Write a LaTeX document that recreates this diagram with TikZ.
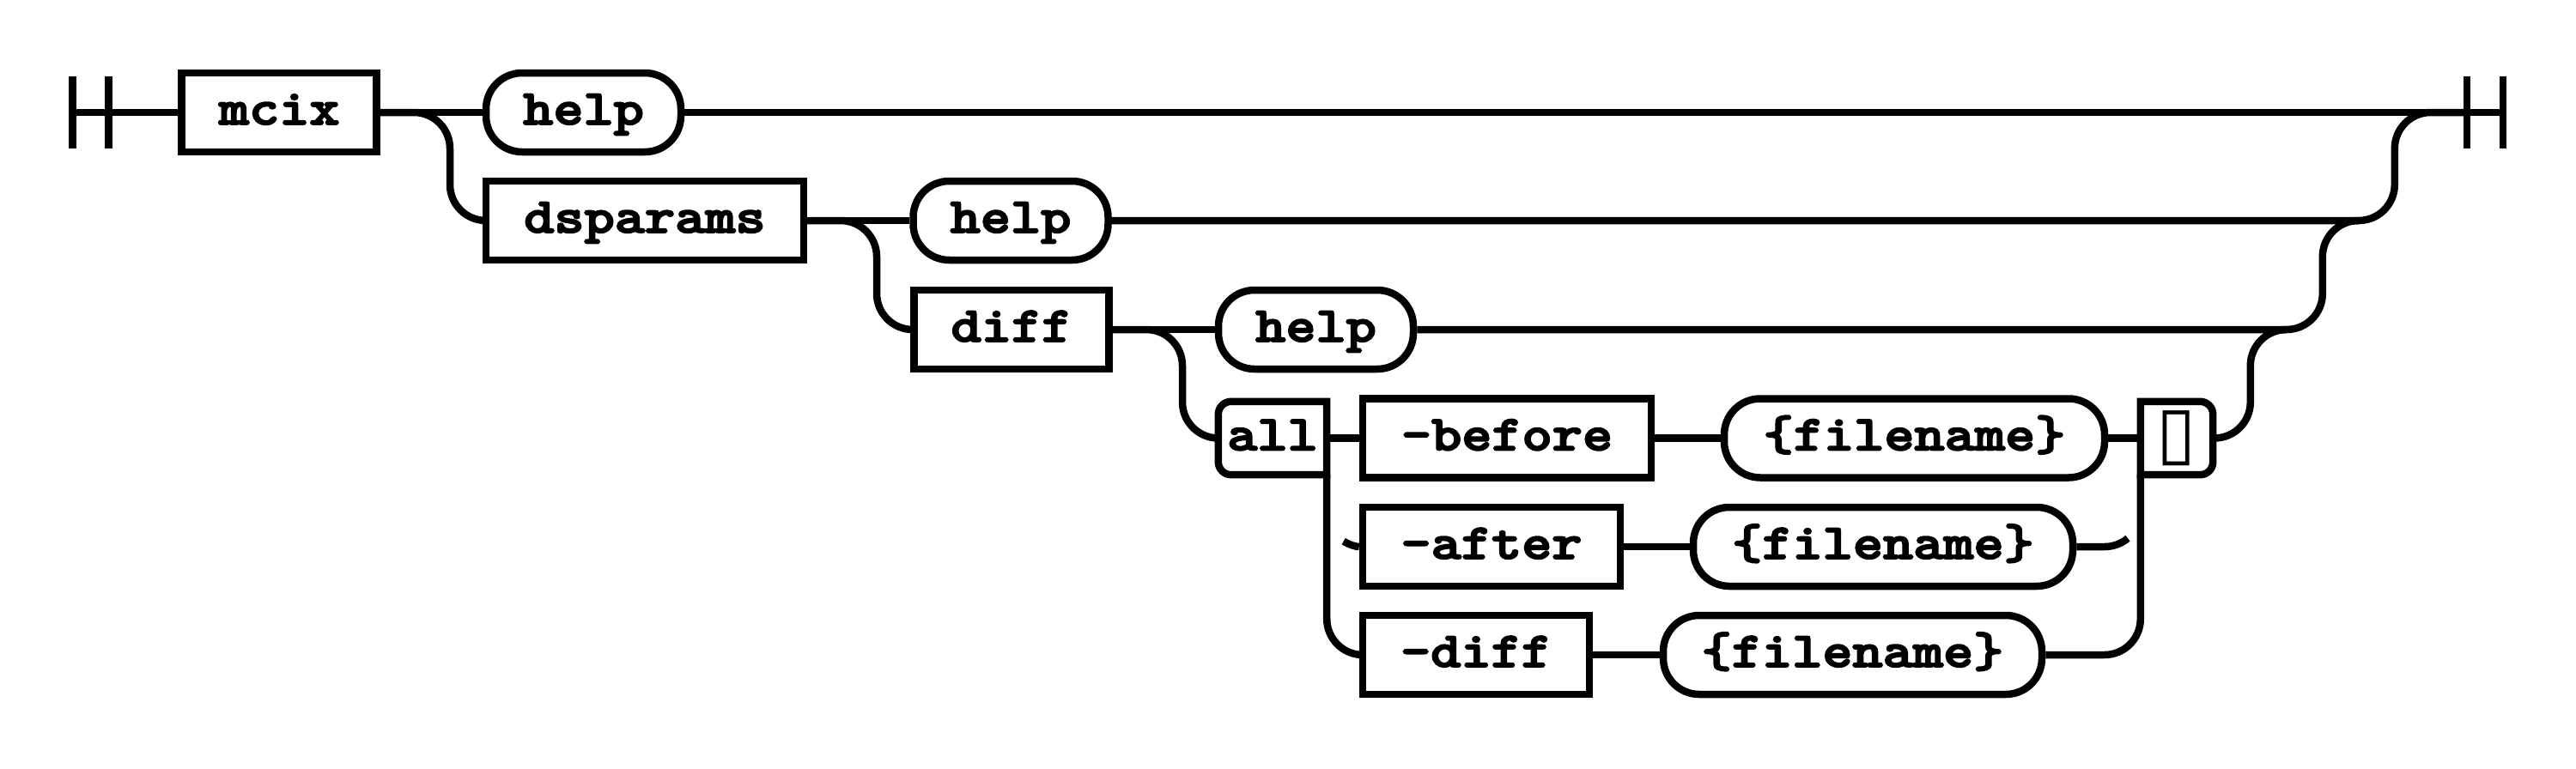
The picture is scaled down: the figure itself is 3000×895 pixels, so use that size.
\documentclass[tikz,border=0pt]{standalone}
\usepackage{fontspec}
\usepackage{graphicx}
\newfontfamily\boxglyph{DejaVu Sans}
\newfontfamily\rrfont{lmmonolt10-bold.otf}[FakeBold=3]
\newcommand\rrt[1]{\scalebox{1}[0.87]{\rrfont\fontsize{67}{67}\selectfont #1}}
\tikzset{
  rail/.style={line width=8.5pt, black},
  ntbox/.style={draw, black, line width=8.5pt, rectangle, minimum height=92pt, inner sep=0pt,
                text height=34pt, text depth=6pt, align=center},
  termbox/.style={ntbox, rounded corners=42pt},
  halfbox/.style={rectangle, minimum height=85pt, inner sep=0pt, text height=34pt, text depth=6pt},
}
\begin{document}
\begin{tikzpicture}[x=1pt,y=-1pt]
\fill[white] (0,0) rectangle (3000,895);
\useasboundingbox (0,0) rectangle (3000,895);

% rail verticals (x positions)
\coordinate (v1) at (524,0);
\coordinate (v2) at (1021,0);
\coordinate (v3) at (1377,0);
\coordinate (w3) at (2620.8,0);
\coordinate (w2) at (2704.8,0);
\coordinate (w1) at (2788.8,0);

% start / end
\coordinate (start) at (84.5,131);
\coordinate (start2) at (126.5,131);
\coordinate (endbar1) at (2872.8,131);
\coordinate (endbar) at (2914.8,131);

% nodes
\node[ntbox, minimum width=227pt] (mcix) at (325.2,131) {\rrt{mcix}};
\node[termbox, minimum width=227pt] (help1) at (679.5,131) {\rrt{help}};
\node[ntbox, minimum width=370pt] (dsparams) at (751,257) {\rrt{dsparams}};
\node[termbox, minimum width=227pt] (help2) at (1177,257) {\rrt{help}};
\node[ntbox, minimum width=227pt] (diff) at (1178,384) {\rrt{diff}};
\node[termbox, minimum width=227pt] (help3) at (1532.5,384) {\rrt{help}};
\node[halfbox, minimum width=126pt] (all) at (1482,510.5) {\rrt{all}};
\node[ntbox, minimum width=336pt] (before) at (1755,510.5) {\rrt{-before}};
\node[termbox, minimum width=443pt] (f1) at (2229.5,510.5) {\rrt{\{filename\}}};
\node[rectangle, inner sep=0pt, minimum width=84pt, minimum height=85pt] (sym) at (2535,510.5) {\boxglyph\fontsize{84}{84}\selectfont ▯};
\node[ntbox, minimum width=300pt] (after) at (1737,637) {\rrt{-after}};
\node[termbox, minimum width=442pt] (f2) at (2193,637) {\rrt{\{filename\}}};
\node[ntbox, minimum width=264pt] (dopt) at (1719,763) {\rrt{-diff}};
\node[termbox, minimum width=441pt] (f3) at (2157.5,763) {\rrt{\{filename\}}};

% half-rounded boxes
\draw[rail] (all.north east) -- ([xshift=15pt]all.north west)
  .. controls ([xshift=6.72pt]all.north west) and ([yshift=-6.72pt]all.north west) .. ([yshift=-15pt]all.north west)
  -- ([yshift=15pt]all.south west)
  .. controls ([yshift=6.72pt]all.south west) and ([xshift=6.72pt]all.south west) .. ([xshift=15pt]all.south west)
  -- (all.south east) -- cycle;
\draw[rail] (sym.north west) -- ([xshift=-15pt]sym.north east)
  .. controls ([xshift=-6.72pt]sym.north east) and ([yshift=-6.72pt]sym.north east) .. ([yshift=-15pt]sym.north east)
  -- ([yshift=15pt]sym.south east)
  .. controls ([yshift=6.72pt]sym.south east) and ([xshift=-6.72pt]sym.south east) .. ([xshift=-15pt]sym.south east)
  -- (sym.south west) -- cycle;

% start and end bars
\draw[rail] ([yshift=42pt]start) -- ([yshift=-42pt]start);
\draw[rail] ([yshift=42pt]start2) -- ([yshift=-42pt]start2);
\draw[rail] ([yshift=42pt]endbar1) -- ([yshift=-42pt]endbar1);
\draw[rail] ([yshift=42pt]endbar) -- ([yshift=-42pt]endbar);
\draw[rail] (start) -- (mcix.west);

% choice 1
\draw[rail] (mcix.east) -- (help1.west);
\draw[rail] (help1.east) -- (endbar);
\draw[rail, rounded corners=42pt] (mcix.east) -- (mcix.east -| v1) -- (dsparams.west -| v1) -- (dsparams.west);
\draw[rail, rounded corners=42pt] (help2.east) -- (help2.east -| w1) -- (help1.east -| w1) -- (endbar1);

% choice 2
\draw[rail] (dsparams.east) -- (help2.west);
\draw[rail, rounded corners=42pt] (dsparams.east) -- (dsparams.east -| v2) -- (diff.west -| v2) -- (diff.west);
\draw[rail, rounded corners=42pt] (help3.east) -- (help3.east -| w2) -- (help2.east -| w2) -- ([xshift=42pt]help2.east -| w2);

% choice 3
\draw[rail] (diff.east) -- (help3.west);
\draw[rail, rounded corners=42pt] (diff.east) -- (diff.east -| v3) -- (all.west -| v3) -- (all.west);
\draw[rail, rounded corners=42pt] (sym.east) -- (sym.east -| w3) -- (help3.east -| w3) -- ([xshift=42pt]help3.east -| w3);

% choice 4
\draw[rail] (all.east) -- (before.west);
\draw[rail, rounded corners=42pt] (all.south east) -- (all.south east |- dopt.west) -- (dopt.west);
\coordinate (lh) at (1564.7,630.6);
\draw[rail] (lh) .. controls (1571.4,634.8) and (1579.1,637) .. (after.west);
\draw[rail] (before.east) -- (f1.west);
\draw[rail] (after.east) -- (f2.west);
\draw[rail] (dopt.east) -- (f3.west);
\draw[rail] (f1.east) -- (sym.west);
\coordinate (rh) at (2451,637);
\coordinate (rhe) at (2478,627.2);
\draw[rail] (f2.east) -- (rh) .. controls (2460.9,637) and (2470.4,633.5) .. (rhe);
\draw[rail, rounded corners=42pt] (f3.east) -- (f3.east -| sym.south west) -- (sym.south west);
\end{tikzpicture}
\end{document}
